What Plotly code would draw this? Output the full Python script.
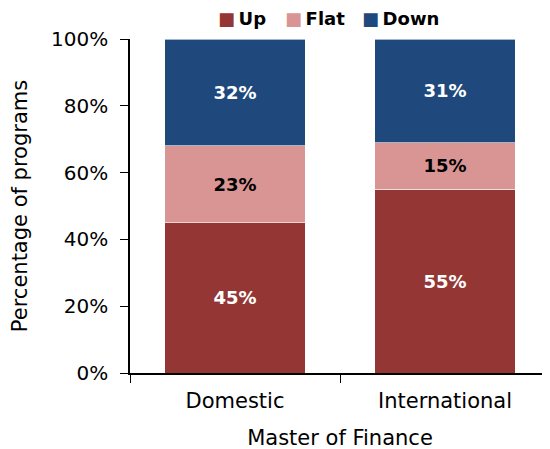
import plotly.graph_objects as go

categories = ["Domestic", "International"]
series = ["Up", "Flat", "Down"]
up = [45, 55]
flat = [23, 14]
down = [32, 31]
up_text = ["45%", "55%"]
flat_text = ["23%", "15%"]
down_text = ["32%", "31%"]

colors = ["#943634", "#D99594", "#1F497D"]
text_colors = ["white", "black", "white"]
font_family = "DejaVu Sans"

fig = go.Figure()
for name, vals, txt, c, tc in zip(series, [up, flat, down], [up_text, flat_text, down_text],
                                  colors, text_colors):
    fig.add_trace(go.Bar(name=name, x=categories, y=vals, text=txt,
                         marker=dict(color=c, line=dict(color="white", width=0.6)),
                         textfont=dict(color=tc)))

fig.update_traces(textposition="inside", insidetextanchor="middle",
                  textfont=dict(size=18, family=font_family, weight="bold"),
                  textangle=0, cliponaxis=True)

# legend drawn as annotations so it doesn't push the top margin
legend_x = [0.204, 0.364, 0.547]
for name, c, lx in zip(series, colors, legend_x):
    fig.add_annotation(xref="paper", yref="paper", x=lx, y=1.06,
                       xanchor="left", yanchor="middle", showarrow=False,
                       text=f'<span style="color:{c}">■</span>\u2009{name}',
                       font=dict(size=18, weight="bold", color="black"))

# page body adds an 8px offset, margins compensate for it
fig.update_layout(
    barmode="stack",
    bargap=0.33,
    width=550, height=449,
    margin=dict(l=122, r=8, t=31, b=84),
    plot_bgcolor="white", paper_bgcolor="white",
    font=dict(family=font_family, size=18, color="black"),
    uniformtext=dict(minsize=18, mode="show"),
    showlegend=False,
)
fig.update_yaxes(range=[0, 100], tickvals=[0, 20, 40, 60, 80, 100],
                 ticktext=["0%", "20%", "40%", "60%", "80%", "100%"],
                 tickfont=dict(size=20), ticklabelstandoff=8,
                 showline=True, linecolor="black", linewidth=1.5,
                 ticks="outside", ticklen=8, tickcolor="black", showgrid=False,
                 zeroline=False,
                 title=dict(text="Percentage of programs", standoff=18,
                            font=dict(size=21)))
fig.update_xaxes(showline=True, linecolor="black", linewidth=1.5,
                 ticks="outside", tickson="boundaries", ticklen=8, tickcolor="black",
                 tickfont=dict(size=21), ticklabelstandoff=8,
                 title=dict(text="Master of Finance", standoff=18,
                            font=dict(size=21)))

fig.write_html("out.html")
